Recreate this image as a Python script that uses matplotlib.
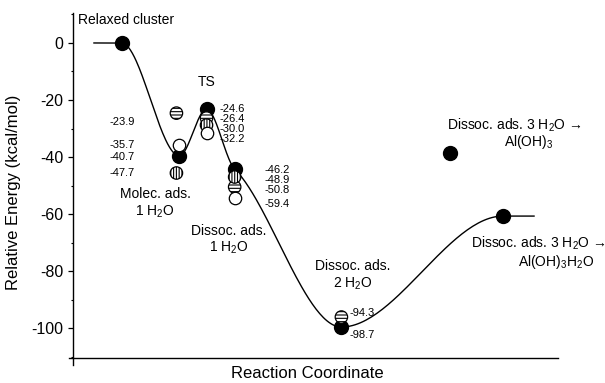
import numpy as np
import matplotlib
matplotlib.use('Agg')
import matplotlib.pyplot as plt

plt.rcParams['font.family'] = ['Liberation Sans', 'DejaVu Sans']
plt.rcParams['mathtext.fontset'] = 'custom'
plt.rcParams['mathtext.rm'] = 'Liberation Sans'
plt.rcParams['mathtext.it'] = 'Liberation Sans:italic'
plt.rcParams['hatch.linewidth'] = 0.8
plt.rcParams['axes.unicode_minus'] = False

# reaction path (stage position along reaction coordinate, energy in kcal/mol)
path_x = [0.44, 1.01, 2.20, 2.76, 3.34, 5.54, 8.87, 9.51]
path_e = [0.0, 0.0, -39.6, -23.2, -44.2, -99.6, -60.7, -60.7]
path_slope = [0, 0, 0, 0, -17, 0, 0, 0]

# cluster results, grouped by symbol
black_x = [1.01, 2.20, 2.76, 3.34, 5.54, 7.78, 8.87]
black_e = [0.0, -39.6, -23.2, -44.2, -99.6, -38.6, -60.7]
hstripe_x = [2.14, 2.76, 3.34, 5.54]
hstripe_e = [-24.6, -26.3, -50.5, -96.1]
vstripe_x = [2.14, 2.76, 3.34]
vstripe_e = [-45.6, -28.8, -47.0]
open_x = [2.20, 2.76, 3.34]
open_e = [-35.8, -31.6, -54.4]

# printed energies next to each stage
molec_vals = [-23.9, -35.7, -40.7, -47.7]
ts_vals = [-24.6, -26.4, -30.0, -32.2]
diss1_vals = [-46.2, -48.9, -50.8, -59.4]
diss2_vals = [-94.3, -98.7]


def hermite_path(xs, ys, ms, n=60):
    cx, cy = [], []
    for i in range(len(xs) - 1):
        x0, x1 = xs[i], xs[i + 1]
        h = x1 - x0
        t = np.linspace(0, 1, n)
        h00 = 2*t**3 - 3*t**2 + 1
        h10 = t**3 - 2*t**2 + t
        h01 = -2*t**3 + 3*t**2
        h11 = t**3 - t**2
        cx.append(x0 + h*t)
        cy.append(h00*ys[i] + h10*h*ms[i] + h01*ys[i+1] + h11*h*ms[i+1])
    return np.concatenate(cx), np.concatenate(cy)


fig = plt.figure(figsize=(6.05, 3.83), dpi=100)
ax = fig.add_axes([0.120, 0.065, 0.802, 0.901])

cx, cy = hermite_path(path_x, path_e, path_slope)
ax.plot(cx, cy, color='black', lw=1.0, zorder=2)

ms = 80
ax.scatter(black_x, black_e, s=100, c='black', zorder=3)
ax.scatter(hstripe_x, hstripe_e, s=ms, facecolor='white', edgecolor='black',
           hatch='-----', linewidth=0.9, zorder=4)
ax.scatter(vstripe_x, vstripe_e, s=ms, facecolor='white', edgecolor='black',
           hatch='||||||', linewidth=0.9, zorder=5)
ax.scatter(open_x, open_e, s=ms, facecolor='white', edgecolor='black',
           linewidth=0.9, zorder=6)

# value labels
fs = 8
for v, y in zip(molec_vals, [-27.7, -35.8, -40.0, -45.6]):
    ax.text(1.28, y, '%.1f' % v, ha='right', va='center', fontsize=fs)
for v, y in zip(ts_vals, [-23.0, -26.6, -30.2, -33.8]):
    ax.text(3.03, y, '%.1f' % v, ha='left', va='center', fontsize=fs)
for v, y in zip(diss1_vals, [-44.6, -48.1, -51.6, -56.5]):
    ax.text(3.96, y, '%.1f' % v, ha='left', va='center', fontsize=fs)
for v, y in zip(diss2_vals, [-94.7, -102.5]):
    ax.text(5.71, y, '%.1f' % v, ha='left', va='center', fontsize=fs)

# stage names
ts = 10
ax.text(0.11, 8.0, 'Relaxed cluster', ha='left', va='center', fontsize=ts)
ax.text(2.77, -13.7, 'TS', ha='center', va='center', fontsize=ts)
ax.text(1.70, -56.3, 'Molec. ads.\n1 H$_2$O', ha='center', va='center', fontsize=ts)
ax.text(3.22, -69.1, 'Dissoc. ads.\n1 H$_2$O', ha='center', va='center', fontsize=ts)
ax.text(5.77, -81.6, 'Dissoc. ads.\n2 H$_2$O', ha='center', va='center', fontsize=ts)
ax.text(9.10, -28.8, 'Dissoc. ads. 3 H$_2$O \u2192', ha='center', va='center', fontsize=ts)
ax.text(9.41, -34.7, 'Al(OH)$_3$', ha='center', va='center', fontsize=ts)
ax.text(8.22, -70.2, 'Dissoc. ads. 3 H$_2$O \u2192', ha='left', va='center', fontsize=ts)
ax.text(9.97, -76.8, 'Al(OH)$_3$H$_2$O', ha='center', va='center', fontsize=ts)

ax.set_xlim(0, 10)
ax.set_ylim(-110.5, 10.5)
ax.set_yticks([0, -20, -40, -60, -80, -100])
ax.set_yticks([10, -10, -30, -50, -70, -90, -110], minor=True)
ax.set_xticks([])
ax.tick_params(axis='y', which='major', labelsize=11.5, length=3.5, width=0.9, pad=3)
ax.tick_params(axis='y', which='minor', length=1.8, width=0.8)
ax.spines['top'].set_visible(False)
ax.spines['right'].set_visible(False)
ax.spines['left'].set_linewidth(1.0)
ax.spines['bottom'].set_linewidth(1.0)
# axis lines run slightly past the corner, as in the original
ax.spines['left'].set_bounds(-113, 10.5)
ax.spines['bottom'].set_bounds(-0.08, 10)

ax.set_ylabel('Relative Energy (kcal/mol)', fontsize=12)
ax.yaxis.set_label_coords(-0.107, 0.481)
ax.set_xlabel('Reaction Coordinate', fontsize=12)
ax.xaxis.set_label_coords(0.483, -0.022)

fig.savefig('out.png', dpi=100)
